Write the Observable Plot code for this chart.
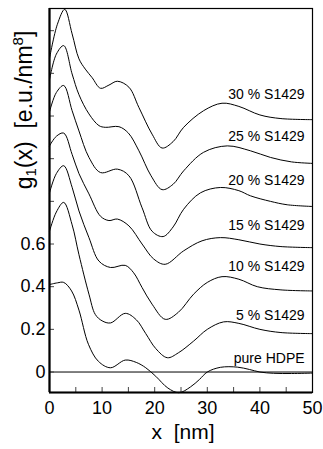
<!DOCTYPE html>
<html>
<head>
<meta charset="utf-8">
<script src="https://cdn.jsdelivr.net/npm/d3@7"></script>
<script src="https://cdn.jsdelivr.net/npm/@observablehq/plot@0.6"></script>
<style>
  html, body { margin: 0; padding: 0; background: #fff; }
</style>
</head>
<body>
<div id="chart"></div>
<script>
// ---- data ----
const seriesNames = ["pure HDPE", "5 % S1429", "10 % S1429", "15 % S1429", "20 % S1429", "25 % S1429", "30 % S1429"];

const hdpeX = [0, 1.5, 2.7, 4.2, 5.6, 7.4, 9.3, 11.6, 14.4, 16.5, 18.3, 20.2, 22.5, 24.6, 26.8, 28.5, 30, 32.5, 35.7, 38, 40, 42.6, 46, 50];
const hdpeY = [0.41, 0.418, 0.42, 0.38, 0.29, 0.13, 0.05, 0.02, 0.056, 0.045, 0.02, -0.02, -0.075, -0.097, -0.07, -0.035, 0, 0.022, 0.023, 0.012, 0, -0.006, -0.007, -0.005];

const s5X = [0, 1.3, 2.7, 4.3, 5.6, 7.5, 8.7, 10, 11.6, 14.4, 16.5, 18.3, 20.2, 22.4, 24.5, 27.4, 30, 33.1, 36, 40, 44, 50];
const s5Y = [0.66, 0.75, 0.795, 0.69, 0.55, 0.365, 0.27, 0.24, 0.23, 0.275, 0.245, 0.18, 0.11, 0.067, 0.09, 0.145, 0.2, 0.235, 0.228, 0.2, 0.185, 0.18];

const s10X = [0, 1.3, 2.7, 4.3, 5.6, 7.5, 9.4, 11.6, 14.4, 16, 17.6, 19.5, 22, 24.5, 27.4, 30, 32.8, 36, 39.5, 44, 50];
const s10Y = [0.84, 0.93, 0.967, 0.866, 0.755, 0.63, 0.52, 0.49, 0.50, 0.465, 0.396, 0.318, 0.247, 0.28, 0.365, 0.42, 0.447, 0.435, 0.40, 0.385, 0.38];

const s15X = [0, 1.3, 2.7, 4.3, 5.6, 7.5, 9.7, 11.3, 12.9, 15.1, 17.6, 19.8, 22, 25.5, 29, 32.5, 36, 40, 44, 50];
const s15Y = [1.06, 1.105, 1.12, 1.02, 0.93, 0.835, 0.73, 0.71, 0.717, 0.685, 0.60, 0.53, 0.505, 0.568, 0.615, 0.63, 0.62, 0.60, 0.588, 0.583];

const s20X = [0, 1.3, 2.7, 4.3, 5.6, 7.5, 9.7, 12.9, 15.1, 17.6, 19.5, 21.6, 23.5, 25.5, 28.7, 32.5, 36, 38.2, 42, 45.2, 50];
const s20Y = [1.22, 1.31, 1.343, 1.225, 1.13, 1.006, 0.935, 0.951, 0.92, 0.77, 0.66, 0.635, 0.68, 0.763, 0.84, 0.865, 0.85, 0.826, 0.80, 0.784, 0.776];

const s25X = [0, 1.3, 2.7, 4.3, 5.6, 7.5, 9.4, 10.6, 13.2, 15, 17, 19.3, 21.4, 23.5, 25.5, 29.3, 33.8, 38.2, 42, 46, 50];
const s25Y = [1.37, 1.49, 1.53, 1.397, 1.30, 1.21, 1.155, 1.147, 1.15, 1.12, 1.037, 0.92, 0.855, 0.88, 0.943, 1.03, 1.06, 1.037, 1.006, 0.985, 0.978];

const s30X = [0, 1.5, 2.9, 4.3, 5.6, 6.8, 8.1, 9.7, 11.3, 12.9, 15.1, 17, 19.5, 21.4, 23.5, 25.5, 29.3, 32.8, 36, 40, 44, 50];
const s30Y = [1.47, 1.63, 1.70, 1.585, 1.468, 1.42, 1.38, 1.33, 1.345, 1.363, 1.335, 1.24, 1.115, 1.05, 1.08, 1.147, 1.225, 1.26, 1.245, 1.205, 1.188, 1.183];

// label positions (y in data units, right end at x = labelX)
const labelX = 48.5;
const labelY = [0.062, 0.265, 0.495, 0.687, 0.898, 1.104, 1.300];

const xLabelTicks = [0, 10, 20, 30, 40, 50];
const xMinorTicks = [0, 5, 10, 15, 20, 25, 30, 35, 40, 45, 50];
const yLabelTicks = [0, 0.2, 0.4, 0.6];
const yMinorTicks = [0, 0.2, 0.4, 0.6, 0.8, 1.0, 1.2, 1.4, 1.6];
const xDomain = [0, 50];
const yDomain = [-0.096, 1.704];

// ---- build table ----
const allX = [hdpeX, s5X, s10X, s15X, s20X, s25X, s30X];
const allY = [hdpeY, s5Y, s10Y, s15Y, s20Y, s25Y, s30Y];
const table = [];
seriesNames.forEach((name, i) => {
  allX[i].forEach((x, j) => table.push({series: name, x, y: allY[i][j]}));
});
const labels = seriesNames.map((name, i) => ({name, x: labelX, y: labelY[i]}));

const W = 323, H = 449, mL = 49, mR = 11, mT = 8, mB = 57;
const innerW = W - mL - mR, innerH = H - mT - mB;

const chart = Plot.plot({
  width: W, height: H,
  marginLeft: mL, marginRight: mR, marginTop: mT, marginBottom: mB,
  style: {fontFamily: "'Liberation Sans', Arial, Helvetica, sans-serif", background: "#fff", color: "#000"},
  x: {domain: xDomain},
  y: {domain: yDomain},
  marks: [
    Plot.ruleY([0], {stroke: "#000", strokeWidth: 1}),
    Plot.line(table, {x: "x", y: "y", z: "series", curve: "catmull-rom", stroke: "#000", strokeWidth: 1}),
    Plot.text(labels, {x: "x", y: "y", text: "name", textAnchor: "end", fontSize: 14, fill: "#000"}),
    Plot.tickY(yMinorTicks, {y: d => d, insetRight: innerW - 5, stroke: "#444", strokeWidth: 1}),
    Plot.tickX(xMinorTicks, {x: d => d, insetTop: innerH - 5, stroke: "#444", strokeWidth: 1}),
    Plot.axisY(yLabelTicks, {tickSize: 0, tickPadding: 4, fontSize: 18, label: null, tickFormat: d => d === 0 ? "0" : d3.format(".1f")(d)}),
    Plot.axisX(xLabelTicks, {tickSize: 0, tickPadding: 9, fontSize: 18, label: null}),
    Plot.frame({stroke: "#000", strokeWidth: 1.2}),
    Plot.ruleX([xDomain[0]], {stroke: "#000", strokeWidth: 2.2}),
    Plot.ruleY([yDomain[0]], {stroke: "#000", strokeWidth: 2.2})
  ]
});

const svg = d3.select(chart);
// y axis title
const yt = svg.append("text")
  .attr("transform", "translate(32,110) rotate(-90)")
  .attr("text-anchor", "middle")
  .attr("font-size", 23)
  .attr("fill", "#000");
yt.append("tspan").text("g");
yt.append("tspan").attr("font-size", 15).attr("dy", 4).text("1");
yt.append("tspan").attr("dy", -4).text("(x)\u00a0\u00a0[e.u./nm");
yt.append("tspan").attr("font-size", 15).attr("dy", -9).text("8");
yt.append("tspan").attr("dy", 9).text("]");
// x axis title
svg.append("text")
  .attr("x", 183).attr("y", 439)
  .attr("text-anchor", "middle")
  .attr("font-size", 21)
  .attr("fill", "#000")
  .text("x\u00a0\u00a0[nm]");

document.getElementById("chart").appendChild(chart);
</script>
</body>
</html>
